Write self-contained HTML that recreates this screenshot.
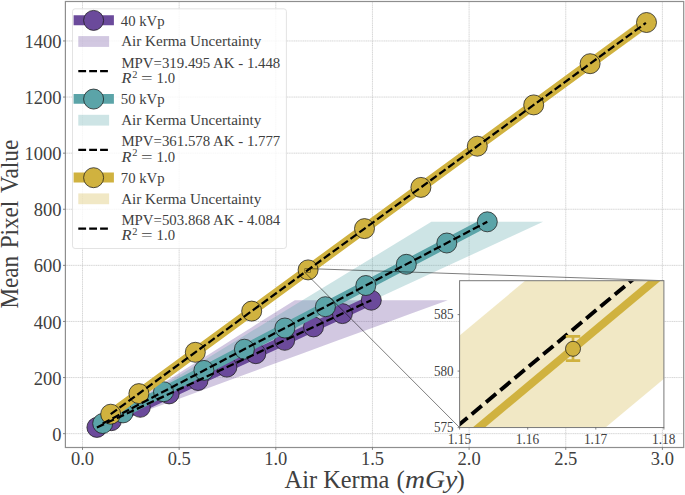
<!DOCTYPE html>
<html><head><meta charset="utf-8"><title>Mean Pixel Value vs Air Kerma</title>
<style>html,body{margin:0;padding:0;background:#fff;width:685px;height:495px;overflow:hidden}</style>
</head><body>
<svg width="685" height="495" viewBox="0 0 685 495" style="display:block;font-family:'Liberation Serif',serif">
<rect width="685" height="495" fill="#fff"/>
<g stroke="#bcbcbc" stroke-width="0.6" stroke-dasharray="1.3 0.5" fill="none">
<path d="M82.50 1.5V447.5"/>
<path d="M179.15 1.5V447.5"/>
<path d="M275.80 1.5V447.5"/>
<path d="M372.45 1.5V447.5"/>
<path d="M469.10 1.5V447.5"/>
<path d="M565.75 1.5V447.5"/>
<path d="M662.40 1.5V447.5"/>
<path d="M65.4 433.65H683.7"/>
<path d="M65.4 377.55H683.7"/>
<path d="M65.4 321.45H683.7"/>
<path d="M65.4 265.36H683.7"/>
<path d="M65.4 209.26H683.7"/>
<path d="M65.4 153.16H683.7"/>
<path d="M65.4 97.06H683.7"/>
<path d="M65.4 40.96H683.7"/>
</g>
<clipPath id="ax"><rect x="65.4" y="1.5" width="618.3000000000001" height="446.0"/></clipPath>
<g clip-path="url(#ax)">
<polygon fill="#6b4a9b" fill-opacity="0.3" points="93.1,427.4 103.7,420.7 125.0,407.3 146.2,393.9 167.4,380.5 188.6,367.1 209.9,353.7 231.1,340.3 252.3,326.9 273.5,313.6 294.8,300.2 447.8,300.2 411.3,313.6 374.8,326.9 338.2,340.3 301.7,353.7 265.2,367.1 228.6,380.5 192.1,393.9 155.6,407.3 119.0,420.7 100.8,427.4"/>
<polygon fill="#5ba4a8" fill-opacity="0.3" points="99.9,423.5 117.4,412.9 152.3,391.7 187.2,370.4 222.1,349.2 257.0,328.0 291.8,306.7 326.7,285.5 361.6,264.3 396.5,243.0 431.4,221.8 543.1,221.8 497.1,243.0 451.0,264.3 404.9,285.5 358.9,306.7 312.8,328.0 266.8,349.2 220.7,370.4 174.6,391.7 128.6,412.9 105.5,423.5"/>
<polygon fill="#d0b23f" fill-opacity="0.3" points="110.2,414.2 137.9,393.6 193.4,352.4 248.8,311.2 304.3,270.0 359.7,228.8 415.1,187.6 470.6,146.5 526.0,105.3 581.4,64.1 636.9,22.9 654.9,22.9 597.7,64.1 540.4,105.3 483.2,146.5 425.9,187.6 368.7,228.8 311.5,270.0 254.2,311.2 197.0,352.4 139.7,393.6 111.1,414.2"/>
<polyline fill="none" stroke="#6b4a9b" stroke-width="9.6" stroke-linecap="square" stroke-linejoin="round" points="96.9,427.4 111.4,420.7 140.3,407.3 169.1,393.9 198.0,380.5 226.9,367.1 255.8,353.7 284.7,340.3 313.5,326.9 342.4,313.6 371.3,300.2"/>
<circle cx="96.9" cy="427.4" r="10" fill="#6b4a9b" stroke="#1a1a1a" stroke-width="0.75"/>
<circle cx="111.4" cy="420.7" r="10" fill="#6b4a9b" stroke="#1a1a1a" stroke-width="0.75"/>
<circle cx="140.3" cy="407.3" r="10" fill="#6b4a9b" stroke="#1a1a1a" stroke-width="0.75"/>
<circle cx="169.1" cy="393.9" r="10" fill="#6b4a9b" stroke="#1a1a1a" stroke-width="0.75"/>
<circle cx="198.0" cy="380.5" r="10" fill="#6b4a9b" stroke="#1a1a1a" stroke-width="0.75"/>
<circle cx="226.9" cy="367.1" r="10" fill="#6b4a9b" stroke="#1a1a1a" stroke-width="0.75"/>
<circle cx="255.8" cy="353.7" r="10" fill="#6b4a9b" stroke="#1a1a1a" stroke-width="0.75"/>
<circle cx="284.7" cy="340.3" r="10" fill="#6b4a9b" stroke="#1a1a1a" stroke-width="0.75"/>
<circle cx="313.5" cy="326.9" r="10" fill="#6b4a9b" stroke="#1a1a1a" stroke-width="0.75"/>
<circle cx="342.4" cy="313.6" r="10" fill="#6b4a9b" stroke="#1a1a1a" stroke-width="0.75"/>
<circle cx="371.3" cy="300.2" r="10" fill="#6b4a9b" stroke="#1a1a1a" stroke-width="0.75"/>
<polyline fill="none" stroke="#5ba4a8" stroke-width="9.6" stroke-linecap="square" stroke-linejoin="round" points="102.7,423.5 123.0,412.9 163.5,391.7 203.9,370.4 244.4,349.2 284.9,328.0 325.4,306.7 365.8,285.5 406.3,264.3 446.8,243.0 487.3,221.8"/>
<circle cx="102.7" cy="423.5" r="10" fill="#5ba4a8" stroke="#1a1a1a" stroke-width="0.75"/>
<circle cx="123.0" cy="412.9" r="10" fill="#5ba4a8" stroke="#1a1a1a" stroke-width="0.75"/>
<circle cx="163.5" cy="391.7" r="10" fill="#5ba4a8" stroke="#1a1a1a" stroke-width="0.75"/>
<circle cx="203.9" cy="370.4" r="10" fill="#5ba4a8" stroke="#1a1a1a" stroke-width="0.75"/>
<circle cx="244.4" cy="349.2" r="10" fill="#5ba4a8" stroke="#1a1a1a" stroke-width="0.75"/>
<circle cx="284.9" cy="328.0" r="10" fill="#5ba4a8" stroke="#1a1a1a" stroke-width="0.75"/>
<circle cx="325.4" cy="306.7" r="10" fill="#5ba4a8" stroke="#1a1a1a" stroke-width="0.75"/>
<circle cx="365.8" cy="285.5" r="10" fill="#5ba4a8" stroke="#1a1a1a" stroke-width="0.75"/>
<circle cx="406.3" cy="264.3" r="10" fill="#5ba4a8" stroke="#1a1a1a" stroke-width="0.75"/>
<circle cx="446.8" cy="243.0" r="10" fill="#5ba4a8" stroke="#1a1a1a" stroke-width="0.75"/>
<circle cx="487.3" cy="221.8" r="10" fill="#5ba4a8" stroke="#1a1a1a" stroke-width="0.75"/>
<polyline fill="none" stroke="#d0b23f" stroke-width="9.6" stroke-linecap="square" stroke-linejoin="round" points="110.7,414.2 138.9,393.6 195.3,352.3 251.7,311.1 308.1,269.9 364.5,228.6 420.9,187.4 477.3,146.2 533.7,104.9 590.1,63.7 646.5,22.5"/>
<circle cx="110.7" cy="414.2" r="10" fill="#d0b23f" stroke="#1a1a1a" stroke-width="0.75"/>
<circle cx="138.9" cy="393.6" r="10" fill="#d0b23f" stroke="#1a1a1a" stroke-width="0.75"/>
<circle cx="195.3" cy="352.3" r="10" fill="#d0b23f" stroke="#1a1a1a" stroke-width="0.75"/>
<circle cx="251.7" cy="311.1" r="10" fill="#d0b23f" stroke="#1a1a1a" stroke-width="0.75"/>
<circle cx="308.1" cy="269.9" r="10" fill="#d0b23f" stroke="#1a1a1a" stroke-width="0.75"/>
<circle cx="364.5" cy="228.6" r="10" fill="#d0b23f" stroke="#1a1a1a" stroke-width="0.75"/>
<circle cx="420.9" cy="187.4" r="10" fill="#d0b23f" stroke="#1a1a1a" stroke-width="0.75"/>
<circle cx="477.3" cy="146.2" r="10" fill="#d0b23f" stroke="#1a1a1a" stroke-width="0.75"/>
<circle cx="533.7" cy="104.9" r="10" fill="#d0b23f" stroke="#1a1a1a" stroke-width="0.75"/>
<circle cx="590.1" cy="63.7" r="10" fill="#d0b23f" stroke="#1a1a1a" stroke-width="0.75"/>
<circle cx="646.5" cy="22.5" r="10" fill="#d0b23f" stroke="#1a1a1a" stroke-width="0.75"/>
<path d="M96.9 427.4L371.3 300.2" stroke="#000" stroke-width="2.25" stroke-dasharray="7.8 3.2" fill="none"/>
<path d="M102.7 423.5L487.3 221.8" stroke="#000" stroke-width="2.25" stroke-dasharray="7.8 3.2" fill="none"/>
<path d="M110.7 414.2L645.9 22.9" stroke="#000" stroke-width="2.25" stroke-dasharray="7.8 3.2" fill="none"/>
</g>
<g stroke="#000" stroke-opacity="0.6" stroke-width="0.85" fill="none">
<rect x="304.8" y="268.7" width="5.8" height="3.6" stroke-width="0.6"/>
<path d="M310.6 268.7L663.9 280.7"/>
<path d="M304.8 272.4L459.6 427.55"/>
</g>
<rect x="459.6" y="280.7" width="204.29999999999995" height="146.85000000000002" fill="#fff"/>
<clipPath id="in"><rect x="459.6" y="280.7" width="204.29999999999995" height="146.85000000000002"/></clipPath>
<g clip-path="url(#in)">
<polygon fill="#d0b23f" fill-opacity="0.3" points="325.5,447.6 549.1,260.7 805.1,260.7 581.5,447.6"/>
<path d="M454.8 447.55L678.4 260.7" stroke="#d0b23f" stroke-width="7.9" fill="none"/>
<path d="M457.4 426.1L657.4 259.0" stroke="#000" stroke-width="3.9" stroke-dasharray="13.1 5.55" fill="none"/>
<g stroke="#d0b23f" stroke-width="2.7" fill="none"><path d="M573.0 336.4V360.6"/><path d="M565.8 336.4H580.2M565.8 360.6H580.2"/></g>
<circle cx="573.0" cy="348.8" r="7.5" fill="#d0b23f" stroke="#1a1a1a" stroke-width="0.75"/>
</g>
<rect x="459.6" y="280.7" width="204.29999999999995" height="146.85000000000002" fill="none" stroke="#787878" stroke-width="1"/>
<g stroke="#555" stroke-width="0.7">
<path d="M459.6 427.55v2"/>
<path d="M527.7 427.55v2"/>
<path d="M595.8 427.55v2"/>
<path d="M663.9 427.55v2"/>
<path d="M459.6 427.6h-2"/>
<path d="M459.6 371.1h-2"/>
<path d="M459.6 314.6h-2"/>
</g>
<g font-size="13.8" fill="#404040">
<text x="447.7" y="443.8" textLength="23.4" lengthAdjust="spacingAndGlyphs">1.15</text>
<text x="515.8" y="443.8" textLength="23.4" lengthAdjust="spacingAndGlyphs">1.16</text>
<text x="583.9" y="443.8" textLength="23.4" lengthAdjust="spacingAndGlyphs">1.17</text>
<text x="652.0" y="443.8" textLength="23.4" lengthAdjust="spacingAndGlyphs">1.18</text>
<text x="434.0" y="432.1" textLength="19.6" lengthAdjust="spacingAndGlyphs">575</text>
<text x="434.0" y="375.6" textLength="19.6" lengthAdjust="spacingAndGlyphs">580</text>
<text x="434.0" y="319.1" textLength="19.6" lengthAdjust="spacingAndGlyphs">585</text>
</g>
<rect x="65.4" y="1.5" width="618.3000000000001" height="446.0" fill="none" stroke="#8e8e8e" stroke-width="1.2"/>
<g stroke="#6a6a6a" stroke-width="0.8">
<path d="M82.50 447.5v2.4"/>
<path d="M179.15 447.5v2.4"/>
<path d="M275.80 447.5v2.4"/>
<path d="M372.45 447.5v2.4"/>
<path d="M469.10 447.5v2.4"/>
<path d="M565.75 447.5v2.4"/>
<path d="M662.40 447.5v2.4"/>
<path d="M65.4 433.65h-2.4"/>
<path d="M65.4 377.55h-2.4"/>
<path d="M65.4 321.45h-2.4"/>
<path d="M65.4 265.36h-2.4"/>
<path d="M65.4 209.26h-2.4"/>
<path d="M65.4 153.16h-2.4"/>
<path d="M65.4 97.06h-2.4"/>
<path d="M65.4 40.96h-2.4"/>
</g>
<g font-size="18.5" fill="#404040">
<text x="82.5" y="464.6" text-anchor="middle">0.0</text>
<text x="179.2" y="464.6" text-anchor="middle">0.5</text>
<text x="275.8" y="464.6" text-anchor="middle">1.0</text>
<text x="372.5" y="464.6" text-anchor="middle">1.5</text>
<text x="469.1" y="464.6" text-anchor="middle">2.0</text>
<text x="565.8" y="464.6" text-anchor="middle">2.5</text>
<text x="662.4" y="464.6" text-anchor="middle">3.0</text>
<text x="61.400000000000006" y="440.6" text-anchor="end">0</text>
<text x="61.400000000000006" y="384.6" text-anchor="end">200</text>
<text x="61.400000000000006" y="328.5" text-anchor="end">400</text>
<text x="61.400000000000006" y="272.4" text-anchor="end">600</text>
<text x="61.400000000000006" y="216.3" text-anchor="end">800</text>
<text x="61.400000000000006" y="160.2" text-anchor="end">1000</text>
<text x="61.400000000000006" y="104.1" text-anchor="end">1200</text>
<text x="61.400000000000006" y="48.0" text-anchor="end">1400</text>
</g>
<g font-size="24.8" fill="#404040"><text x="284.6" y="487.5" textLength="104.8" lengthAdjust="spacingAndGlyphs">Air Kerma</text><text x="396.6" y="487.5">(</text><text x="405" y="487.5" font-style="italic" textLength="52.4" lengthAdjust="spacingAndGlyphs">mGy</text><text x="456.6" y="487.5">)</text></g>
<g font-size="24.6" fill="#404040"><text transform="translate(18.3 308.6) rotate(-90)" textLength="52.6" lengthAdjust="spacingAndGlyphs">Mean</text><text transform="translate(18.3 248.2) rotate(-90)" textLength="47.4" lengthAdjust="spacingAndGlyphs">Pixel</text><text transform="translate(18.3 192.9) rotate(-90)" textLength="53.4" lengthAdjust="spacingAndGlyphs">Value</text></g>
<rect x="72.5" y="8.8" width="213.9" height="239.7" rx="2.6" fill="#fff" fill-opacity="0.8" stroke="#dcdcdc" stroke-width="0.8"/>
<path d="M73.6 20.20H113.9" stroke="#6b4a9b" stroke-width="9.9"/>
<circle cx="93.6" cy="20.4" r="10.0" fill="#6b4a9b" stroke="#1a1a1a" stroke-width="0.75"/>
<rect x="78.3" y="36.1" width="30.8" height="10.8" fill="#6b4a9b" fill-opacity="0.3"/>
<path d="M78.3 71.2H108.4" stroke="#000" stroke-width="2.25" stroke-dasharray="7.8 3.1"/>
<g font-size="14.8" fill="#404040">
<text x="120.8" y="25.5" textLength="43.8" lengthAdjust="spacingAndGlyphs">40 kVp</text>
<text x="121.2" y="46.4" textLength="140.2" lengthAdjust="spacingAndGlyphs">Air Kerma Uncertainty</text>
<text x="121.4" y="67.5" textLength="158.9" lengthAdjust="spacingAndGlyphs">MPV=319.495 AK - 1.448</text>
<text x="121.6" y="83.0" font-style="italic" textLength="10" lengthAdjust="spacingAndGlyphs">R</text><text x="132.2" y="77.6" font-size="10.4">2</text>
<text x="140.9" y="83.0" textLength="11.6" lengthAdjust="spacingAndGlyphs">=</text><text x="156.6" y="83.0" textLength="18.4" lengthAdjust="spacingAndGlyphs">1.0</text>
</g>
<path d="M73.6 98.85H113.9" stroke="#5ba4a8" stroke-width="9.9"/>
<circle cx="93.6" cy="99.05" r="10.0" fill="#5ba4a8" stroke="#1a1a1a" stroke-width="0.75"/>
<rect x="78.3" y="114.8" width="30.8" height="10.8" fill="#5ba4a8" fill-opacity="0.3"/>
<path d="M78.3 149.8H108.4" stroke="#000" stroke-width="2.25" stroke-dasharray="7.8 3.1"/>
<g font-size="14.8" fill="#404040">
<text x="120.8" y="104.1" textLength="43.8" lengthAdjust="spacingAndGlyphs">50 kVp</text>
<text x="121.2" y="125.0" textLength="140.2" lengthAdjust="spacingAndGlyphs">Air Kerma Uncertainty</text>
<text x="121.4" y="146.2" textLength="158.9" lengthAdjust="spacingAndGlyphs">MPV=361.578 AK - 1.777</text>
<text x="121.6" y="161.7" font-style="italic" textLength="10" lengthAdjust="spacingAndGlyphs">R</text><text x="132.2" y="156.2" font-size="10.4">2</text>
<text x="140.9" y="161.7" textLength="11.6" lengthAdjust="spacingAndGlyphs">=</text><text x="156.6" y="161.7" textLength="18.4" lengthAdjust="spacingAndGlyphs">1.0</text>
</g>
<path d="M73.6 177.50H113.9" stroke="#d0b23f" stroke-width="9.9"/>
<circle cx="93.6" cy="177.7" r="10.0" fill="#d0b23f" stroke="#1a1a1a" stroke-width="0.75"/>
<rect x="78.3" y="193.4" width="30.8" height="10.8" fill="#d0b23f" fill-opacity="0.3"/>
<path d="M78.3 228.5H108.4" stroke="#000" stroke-width="2.25" stroke-dasharray="7.8 3.1"/>
<g font-size="14.8" fill="#404040">
<text x="120.8" y="182.8" textLength="43.8" lengthAdjust="spacingAndGlyphs">70 kVp</text>
<text x="121.2" y="203.7" textLength="140.2" lengthAdjust="spacingAndGlyphs">Air Kerma Uncertainty</text>
<text x="121.4" y="224.8" textLength="158.9" lengthAdjust="spacingAndGlyphs">MPV=503.868 AK - 4.084</text>
<text x="121.6" y="240.3" font-style="italic" textLength="10" lengthAdjust="spacingAndGlyphs">R</text><text x="132.2" y="234.9" font-size="10.4">2</text>
<text x="140.9" y="240.3" textLength="11.6" lengthAdjust="spacingAndGlyphs">=</text><text x="156.6" y="240.3" textLength="18.4" lengthAdjust="spacingAndGlyphs">1.0</text>
</g>
</svg>
</body></html>
